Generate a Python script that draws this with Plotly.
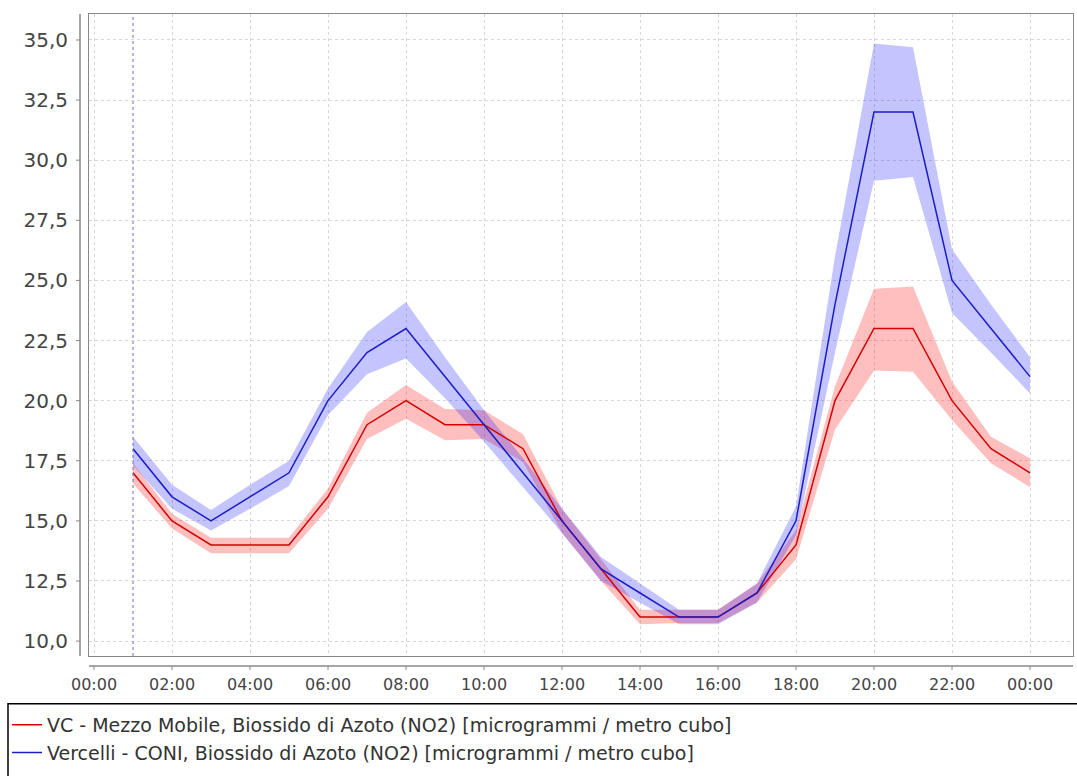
import plotly.graph_objects as go

# ---- data ----
hours = list(range(1, 25))
tick_hours = list(range(0, 25, 2))
tick_labels = ["00:00", "02:00", "04:00", "06:00", "08:00", "10:00", "12:00",
               "14:00", "16:00", "18:00", "20:00", "22:00", "00:00"]
y_ticks = [10.0, 12.5, 15.0, 17.5, 20.0, 22.5, 25.0, 27.5, 30.0, 32.5, 35.0]
y_tick_labels = ["10,0", "12,5", "15,0", "17,5", "20,0", "22,5", "25,0",
                 "27,5", "30,0", "32,5", "35,0"]

red_name = "VC - Mezzo Mobile, Biossido di Azoto (NO2) [microgrammi / metro cubo]"
red = [17, 15, 14, 14, 14, 16, 19, 20, 19, 19, 18, 15, 13, 11, 11, 11, 12, 14,
       20, 23, 23, 20, 18, 17]
red_lo = [16.55, 14.68, 13.65, 13.65, 13.65, 15.5, 18.4, 19.25, 18.35, 18.4,
          17.45, 14.5, 12.5, 10.7, 10.75, 10.75, 11.6, 13.4, 18.8, 21.25,
          21.2, 19.2, 17.4, 16.4]
red_hi = [17.4, 15.3, 14.3, 14.3, 14.3, 16.35, 19.5, 20.65, 19.65, 19.6, 18.6,
          15.5, 13.4, 11.3, 11.3, 11.3, 12.4, 14.6, 20.6, 24.65, 24.75, 20.8,
          18.5, 17.6]

blue_name = "Vercelli - CONI, Biossido di Azoto (NO2) [microgrammi / metro cubo]"
blue = [18, 16, 15, 16, 17, 20, 22, 23, 21, 19, 17, 15, 13, 12, 11, 11, 12, 15,
        24, 32, 32, 25, 23, 21]
blue_lo = [17.3, 15.5, 14.6, 15.5, 16.45, 19.4, 21.1, 21.75, 20.1, 18.3, 16.4,
           14.5, 12.5, 11.6, 10.7, 10.7, 11.6, 14.4, 22.0, 29.15, 29.3, 23.65,
           22.0, 20.3]
blue_hi = [18.5, 16.5, 15.45, 16.5, 17.5, 20.5, 22.85, 24.1, 21.8, 19.6, 17.6,
           15.5, 13.5, 12.4, 11.3, 11.3, 12.4, 15.6, 26.0, 34.85, 34.7, 26.3,
           24.0, 21.8]

marker_hour = 1

# ---- layout constants (pixels) ----
W, H = 1077, 776
L, R, T, B = 89, 1073, 14, 658
PW, PH = R - L, B - T
AX_OFF = 9     # offset of y axis line
AX_OFF_X = 10  # offset of x axis line
TICK = 4

RED_LINE = "#d40000"
BLUE_LINE = "#1c1cc4"
RED_FILL = "rgba(255,0,0,0.25)"
BLUE_FILL = "rgba(0,0,255,0.23)"
FONT = "DejaVu Sans"

fig = go.Figure()

# bands
fig.add_trace(go.Scatter(x=hours, y=red_lo, mode="lines", line=dict(width=0),
                         showlegend=False, hoverinfo="skip"))
fig.add_trace(go.Scatter(x=hours, y=red_hi, mode="lines", line=dict(width=0),
                         fill="tonexty", fillcolor=RED_FILL, showlegend=False,
                         hoverinfo="skip"))
fig.add_trace(go.Scatter(x=hours, y=blue_lo, mode="lines", line=dict(width=0),
                         showlegend=False, hoverinfo="skip"))
fig.add_trace(go.Scatter(x=hours, y=blue_hi, mode="lines", line=dict(width=0),
                         fill="tonexty", fillcolor=BLUE_FILL, showlegend=False,
                         hoverinfo="skip"))
# lines
fig.add_trace(go.Scatter(x=hours, y=red, mode="lines", name=red_name,
                         line=dict(color=RED_LINE, width=1.5)))
fig.add_trace(go.Scatter(x=hours, y=blue, mode="lines", name=blue_name,
                         line=dict(color=BLUE_LINE, width=1.5)))

shapes = []
# offset axis lines
shapes.append(dict(type="line", xref="paper", yref="paper",
                   x0=-AX_OFF / PW, x1=-AX_OFF / PW, y0=0, y1=1,
                   line=dict(color="#888888", width=1.5)))
shapes.append(dict(type="line", xref="paper", yref="paper",
                   x0=0, x1=1, y0=-AX_OFF_X / PH, y1=-AX_OFF_X / PH,
                   line=dict(color="#888888", width=1.5)))
for v in y_ticks:
    shapes.append(dict(type="line", xref="paper", yref="y",
                       x0=-(AX_OFF + TICK) / PW, x1=-AX_OFF / PW, y0=v, y1=v,
                       line=dict(color="#888888", width=1)))
for h in tick_hours:
    shapes.append(dict(type="line", xref="x", yref="paper",
                       x0=h, x1=h, y0=-AX_OFF_X / PH, y1=-(AX_OFF_X + TICK) / PH,
                       line=dict(color="#888888", width=1)))
# marker line
shapes.append(dict(type="line", xref="x", yref="paper", x0=marker_hour,
                   x1=marker_hour, y0=0, y1=1,
                   line=dict(color="#6a6ad0", width=1, dash="dot")))
# legend frame
shapes.append(dict(type="rect", xref="paper", yref="paper",
                   x0=(8 - L) / PW, x1=(W + 20 - L) / PW,
                   y0=(B - 706) / PH, y1=(B - 820) / PH,
                   line=dict(color="#000000", width=1.5), fillcolor="rgba(0,0,0,0)"))

fig.update_layout(
    width=W, height=H,
    margin=dict(l=L, r=W - R, t=T, b=H - B, pad=0),
    paper_bgcolor="white", plot_bgcolor="white",
    font=dict(family=FONT, color="#444444"),
    shapes=shapes,
    showlegend=True,
    legend=dict(x=(7 - L) / PW, y=(B - 708) / PH, xanchor="left", yanchor="top",
                font=dict(family=FONT, size=19, color="#333333"),
                bgcolor="rgba(0,0,0,0)", borderwidth=0,
                traceorder="normal", tracegroupgap=0),
)
fig.update_xaxes(range=[-5 / 39, 24 + 43 / 39], tickvals=tick_hours,
                 ticktext=tick_labels, ticks="", showline=True, mirror=True,
                 linecolor="#888888", linewidth=1, showgrid=True,
                 gridcolor="#d8d8d8", griddash="dot", gridwidth=1,
                 zeroline=False, tickfont=dict(size=16, color="#444444"),
                 ticklabelstandoff=14)
fig.update_yaxes(range=[9.38, 36.08], tickvals=y_ticks, ticktext=y_tick_labels,
                 ticks="", showline=True, mirror=True, linecolor="#888888",
                 linewidth=1, showgrid=True, gridcolor="#d8d8d8", griddash="dot",
                 gridwidth=1, zeroline=False,
                 tickfont=dict(size=20, color="#444444"), ticklabelstandoff=16)

fig.write_html("out.html")
